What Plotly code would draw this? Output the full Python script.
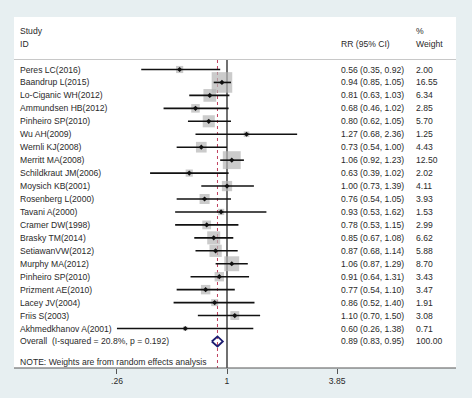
import math
import plotly.graph_objects as go

studies = ["Peres LC(2016)", "Baandrup L(2015)", "Lo-Ciganic WH(2012)", "Ammundsen HB(2012)",
           "Pinheiro SP(2010)", "Wu AH(2009)", "Wernli KJ(2008)", "Merritt MA(2008)",
           "Schildkraut JM(2006)", "Moysich KB(2001)", "Rosenberg L(2000)", "Tavani A(2000)",
           "Cramer DW(1998)", "Brasky TM(2014)", "SetiawanVW(2012)", "Murphy MA(2012)",
           "Pinheiro SP(2010)", "Prizment AE(2010)", "Lacey JV(2004)", "Friis S(2003)",
           "Akhmedkhanov A(2001)"]
rr = [0.56, 0.94, 0.81, 0.68, 0.80, 1.27, 0.73, 1.06, 0.63, 1.00, 0.76, 0.93, 0.78, 0.85,
      0.87, 1.06, 0.91, 0.77, 0.86, 1.10, 0.60]
lo = [0.35, 0.85, 0.63, 0.46, 0.62, 0.68, 0.54, 0.92, 0.39, 0.73, 0.54, 0.53, 0.53, 0.67,
      0.68, 0.87, 0.64, 0.54, 0.52, 0.70, 0.26]
hi = [0.92, 1.05, 1.03, 1.02, 1.05, 2.36, 1.00, 1.23, 1.02, 1.39, 1.05, 1.62, 1.15, 1.08,
      1.14, 1.29, 1.31, 1.10, 1.40, 1.50, 1.38]
weight = [2.00, 16.55, 6.34, 2.85, 5.70, 1.25, 4.43, 12.50, 2.02, 4.11, 3.93, 1.53, 2.99,
          6.62, 5.88, 8.70, 3.43, 3.47, 1.91, 3.08, 0.71]
overall_label = "Overall  (I-squared = 20.8%, p = 0.192)"
overall_rr, overall_lo, overall_hi, overall_w = 0.89, 0.83, 0.95, 100.00
note = "NOTE: Weights are from random effects analysis"
tick_vals = [0.26, 1, 3.85]
tick_text = [".26", "1", "3.85"]

W, H = 472, 398
FONT = "Liberation Sans, Arial, sans-serif"
FS = 8.6
TXT = "#2a2a2a"
BG = "#e7eff1"

n = len(studies)
row_px0, row_step = 69.5, 12.95       # pixel of first row, pixels per row
x_center_px, px_per_dec = 227.0, 188.1  # pixel of x=1, pixels per decade

def py(px):  # pixel y -> paper
    return (H - px) / H

def px_to_row(p):
    return (p - row_px0) / row_step

xr = [-x_center_px / px_per_dec, (W - x_center_px) / px_per_dec]
yr = [px_to_row(H), px_to_row(0)]

fig = go.Figure()

rows = list(range(n))
overall_row = n

# null line and overall dashed line
top_row, bot_row = px_to_row(60), px_to_row(368)
fig.add_trace(go.Scatter(x=[1, 1], y=[top_row, bot_row], mode="lines",
                         line=dict(color="#111111", width=1.2), hoverinfo="skip"))
fig.add_trace(go.Scatter(x=[overall_rr, overall_rr], y=[top_row, bot_row], mode="lines",
                         line=dict(color="#c0405e", width=1, dash="3px,3px"), hoverinfo="skip"))

# weight boxes
fig.add_trace(go.Scatter(x=rr, y=rows, mode="markers",
                         marker=dict(symbol="square", size=[5.06 * math.sqrt(w) for w in weight],
                                     color="#b5b5b5", line=dict(width=0)), hoverinfo="skip"))

# CI lines
cx, cy = [], []
for i in range(n):
    cx += [lo[i], hi[i], None]
    cy += [i, i, None]
fig.add_trace(go.Scatter(x=cx, y=cy, mode="lines", line=dict(color="#111111", width=1.6),
                         hoverinfo="skip"))

# point estimates
fig.add_trace(go.Scatter(x=rr, y=rows, mode="markers",
                         marker=dict(symbol="diamond", size=4, color="#111111"), hoverinfo="skip"))

# overall diamond
hh = 5.0 / row_step
fig.add_trace(go.Scatter(x=[overall_lo, overall_rr, overall_hi, overall_rr, overall_lo],
                         y=[overall_row, overall_row - hh, overall_row, overall_row + hh, overall_row],
                         mode="lines", line=dict(color="#1c1c70", width=1.8), hoverinfo="skip"))

annotations = []

def add_text(xpx, row, text):
    annotations.append(dict(x=xpx / W, xref="paper", y=row, yref="y", text=text,
                            showarrow=False, xanchor="left", yanchor="middle",
                            font=dict(family=FONT, size=FS, color=TXT)))

for i in range(n):
    add_text(18, i, studies[i])
    add_text(339, i, f"{rr[i]:.2f} ({lo[i]:.2f}, {hi[i]:.2f})")
    add_text(414, i, f"{weight[i]:.2f}")
add_text(18, overall_row, overall_label)
add_text(339, overall_row, f"{overall_rr:.2f} ({overall_lo:.2f}, {overall_hi:.2f})")
add_text(414, overall_row, f"{overall_w:.2f}")
add_text(18, px_to_row(362), note)
add_text(18, px_to_row(30.5), "Study")
add_text(18, px_to_row(43.5), "ID")
add_text(339, px_to_row(43.5), "RR (95% CI)")
add_text(414, px_to_row(30.5), "%")
add_text(414, px_to_row(43.5), "Weight")

shapes = [
    dict(type="rect", xref="paper", yref="paper", x0=14 / W, x1=456 / W, y0=py(368), y1=py(17),
         fillcolor="white", line=dict(width=0), layer="below"),
    dict(type="line", xref="paper", yref="paper", x0=14 / W, x1=456 / W, y0=py(59.5), y1=py(59.5),
         line=dict(color="#c8c8c8", width=1)),
    dict(type="line", xref="paper", yref="paper", x0=14 / W, x1=456 / W, y0=py(368), y1=py(368),
         line=dict(color="#555555", width=1)),
]

fig.update_layout(
    width=W, height=H, margin=dict(l=0, r=0, t=0, b=0),
    paper_bgcolor=BG, plot_bgcolor="rgba(0,0,0,0)",
    showlegend=False, annotations=annotations, shapes=shapes,
    xaxis=dict(type="log", range=xr, showgrid=False, zeroline=False, showline=False,
               tickvals=tick_vals, ticktext=tick_text, ticks="outside", ticklen=5,
               tickcolor="#555555", anchor="free", position=(H - 368) / H,
               tickfont=dict(family=FONT, size=FS, color=TXT), fixedrange=True),
    yaxis=dict(range=yr, visible=False, showgrid=False, zeroline=False, fixedrange=True),
)

fig.write_html("out.html", config={"displayModeBar": False},
               post_script="document.body.style.margin='0px';"
                           "document.body.style.background='" + BG + "';")
